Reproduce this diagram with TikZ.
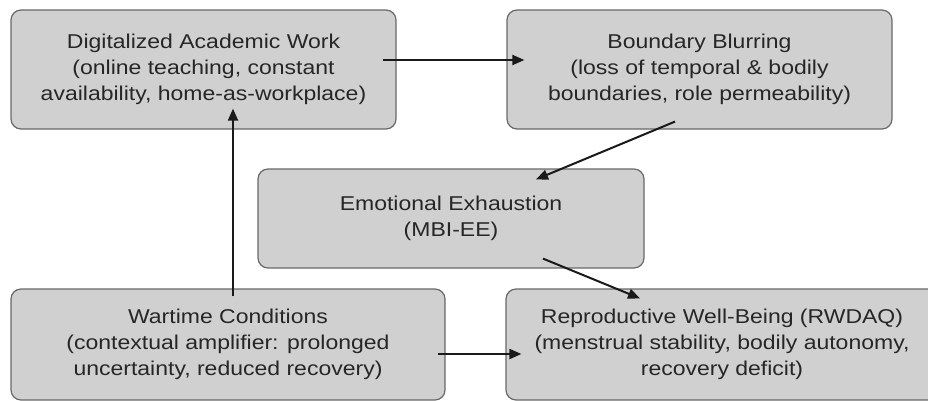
\documentclass[tikz,border=0pt]{standalone}
\usepackage{fontspec}
\setmainfont{Liberation Sans}[FakeStretch=1.15]
\usetikzlibrary{arrows.meta}
\definecolor{boxfill}{RGB}{208,208,208}
\definecolor{boxdraw}{RGB}{105,105,105}
\definecolor{txt}{RGB}{38,38,38}
\definecolor{arr}{RGB}{26,26,26}
\begin{document}
\begin{tikzpicture}[x=1pt,y=-1pt,
  box/.style={draw=boxdraw, fill=boxfill, rounded corners=10pt, line width=1.2pt,
    align=center, text=txt, inner sep=0pt, font=\fontsize{20}{26}\selectfont},
  link/.style={draw=arr, line width=2pt, -{Triangle[length=12pt,width=10pt]}}]
\path[fill=white, use as bounding box] (0,0) rectangle (928,401);
\node[box, minimum width=385pt, minimum height=119pt] (A) at (203.5,69.5)
  {Digitalized Academic Work\\(online teaching, constant\\availability, home-as-workplace)};
\node[box, minimum width=385pt, minimum height=119pt] (B) at (699.5,69.5)
  {Boundary Blurring\\(loss of temporal \& bodily\\boundaries, role permeability)};
\node[box, minimum width=386pt, minimum height=99pt] (C) at (451,218.5)
  {Emotional Exhaustion\\(MBI-EE)};
\node[box, minimum width=434pt, minimum height=111pt] (D) at (228,344.5)
  {Wartime Conditions\\(contextual amplifier: prolonged\\uncertainty, reduced recovery)};
\node[box, minimum width=432pt, minimum height=111pt] (E) at (722,344.5)
  {Reproductive Well-Being (RWDAQ)\\(menstrual stability, bodily autonomy,\\recovery deficit)};
\draw[link] ([xshift=-14pt,yshift=9.5pt]A.east) -- ([xshift=18pt,yshift=9.5pt]B.west);
\draw[link] ([xshift=5pt,yshift=-8pt]D.north) -- ([xshift=29.5pt,yshift=21pt]A.south);
\draw[link] ([xshift=-24.5pt,yshift=8pt]B.south) -- ([xshift=85pt,yshift=-11pt]C.north);
\draw[link] ([xshift=92pt,yshift=10pt]C.south) -- ([xshift=-82pt,yshift=-10pt]E.north);
\draw[link] ([xshift=-8pt,yshift=-9.5pt]D.east) -- ([xshift=16pt,yshift=-9.5pt]E.west);
\end{tikzpicture}
\end{document}
